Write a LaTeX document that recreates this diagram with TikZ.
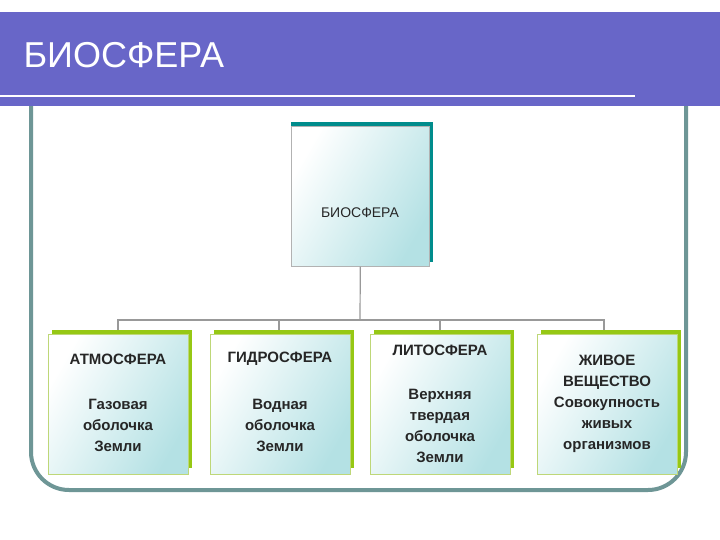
\documentclass[tikz,border=0pt]{standalone}
\usepackage{fontspec}
\setmainfont{Liberation Sans}
\definecolor{band}{RGB}{104,102,200}
\definecolor{frame}{RGB}{110,150,150}
\definecolor{tealsh}{RGB}{0,140,140}
\definecolor{greensh}{RGB}{150,200,20}
\definecolor{lgreen}{RGB}{190,215,120}
\definecolor{shade}{RGB}{180,225,228}
\begin{document}
\begin{tikzpicture}[x=1pt,y=-1pt,
  card/.style={draw=lgreen, line width=0.6pt, left color=white, right color=shade, shading angle=60, minimum width=140pt, minimum height=140pt, anchor=north west, inner sep=0pt},
  shadowg/.style={fill=greensh, draw=none},
  txt/.style={font=\bfseries\fontsize{15}{21}\selectfont, align=center, text=black!85},
  conn/.style={draw=gray!80, line width=1.2pt}]
\useasboundingbox (0,0) rectangle (720,540);
\fill[white] (0,0) rectangle (720,540);
% frame
\draw[line width=4pt, draw=frame, rounded corners=38pt] (31,100) -- (31,490) -- (686,490) -- (686,100);
% band
\fill[band] (0,12) rectangle (705,96);
\fill[band] (0,96) rectangle (720,106);
\fill[band] (685,12) rectangle (720,106);
\draw[white, line width=2.2pt] (0,96) -- (635,96);
\node[anchor=west, text=white, font=\fontsize{36}{40}\selectfont] (title) at (20,55) {БИОСФЕРА};
% top box
\fill[tealsh] (291,122) rectangle (433,262);
\node[card, draw=gray!60, minimum width=138pt, minimum height=140pt] (top) at (291,126) {};
\node[txt, font=\fontsize{14}{16}\selectfont] (toptxt) at (360,213) {БИОСФЕРА};
% connectors
\coordinate (hub) at (360,320);
\draw[conn] (top.south) -- (hub);
\draw[conn] (118,332) -- (118,320) -- (604,320) -- (604,332);
\draw[conn] (279,320) -- (279,332);
\draw[conn] (440,320) -- (440,332);
% cards
\foreach \x/\n in {48/a,210/b,370/c,537/d}{
  \fill[shadowg] (\x+4,330) rectangle (\x+144,468);
  \node[card] (\n) at (\x,334) {};
}
\node[txt] (at) at (118,359) {АТМОСФЕРА};
\node[txt] (ad) at (118,425) {Газовая\\оболочка\\Земли};
\node[txt] (gt) at (280,359) {ГИДРОСФЕРА};
\node[txt] (gd) at (280,425) {Водная\\оболочка\\Земли};
\node[txt] (lt) at (440,350) {ЛИТОСФЕРА};
\node[txt] (ld) at (440,426) {Верхняя\\твердая\\оболочка\\Земли};
\node[txt] (dd) at (607,404) {ЖИВОЕ\\ВЕЩЕСТВО\\Совокупность\\живых\\организмов};
\end{tikzpicture}
\end{document}
